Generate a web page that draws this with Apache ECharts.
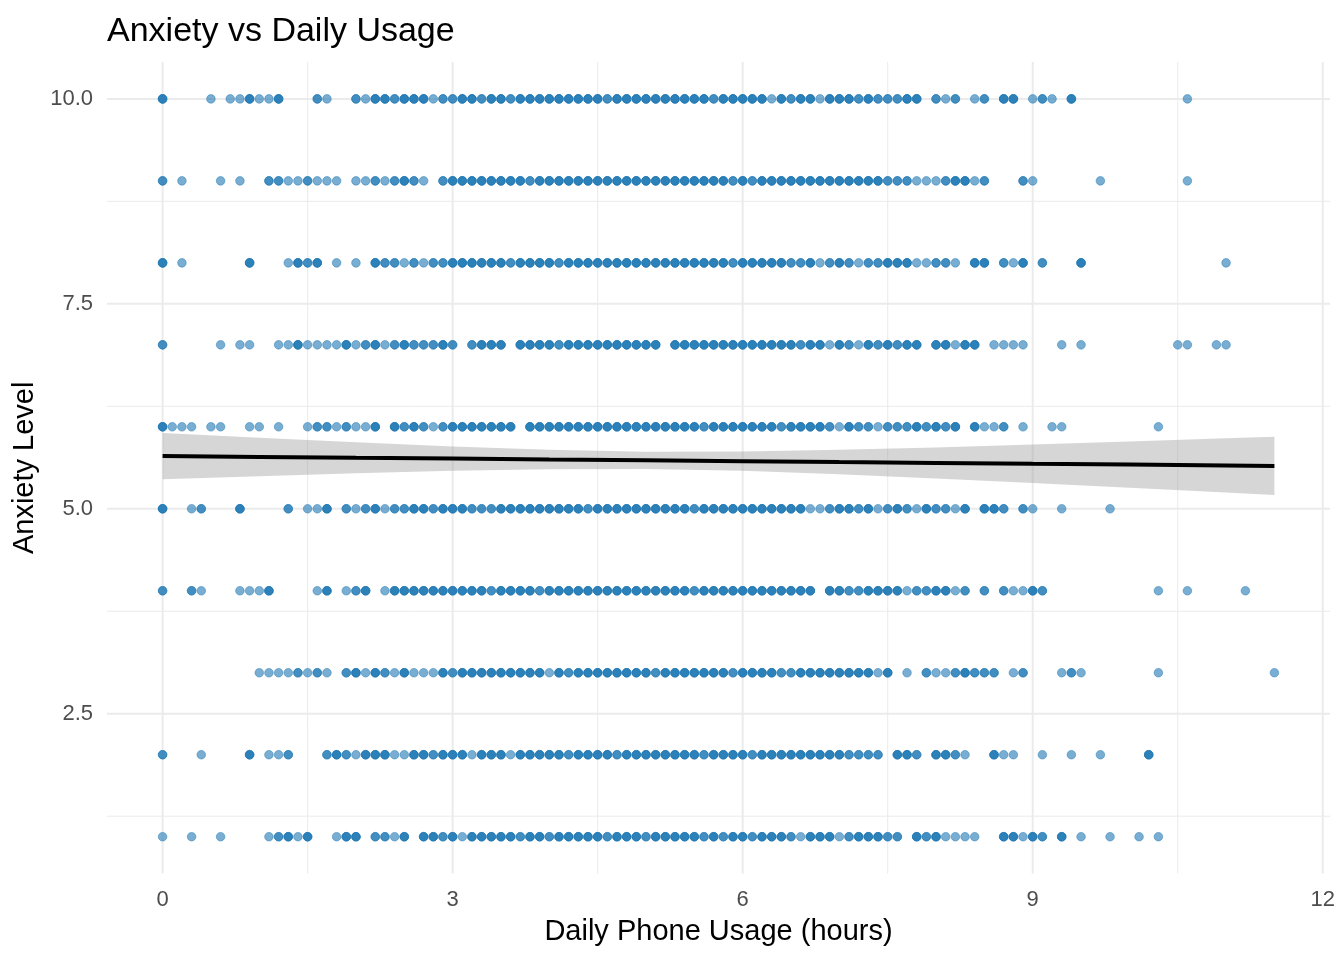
<!DOCTYPE html>
<html>
<head>
<meta charset="utf-8">
<script src="https://cdn.jsdelivr.net/npm/echarts@6/dist/echarts.min.js"></script>
<style>html,body{margin:0;padding:0;background:#fff}#chart{width:1344px;height:960px}</style>
</head>
<body>
<div id="chart"></div>
<script>
// ---- data: [hours, number of overlapping observations] per anxiety level ----
const level10 = [[0,3],[0.5,1],[0.7,1],[0.8,1],[0.9,3],[1.0,1],[1.1,1],[1.2,3],[1.6,2],[1.7,1],[2.0,2],[2.1,1],[2.2,3],[2.3,3],[2.4,2],[2.5,3],[2.6,3],[2.7,3],[2.8,1],[2.9,2],[3.0,2],[3.1,3],[3.2,3],[3.3,2],[3.4,3],[3.5,3],[3.6,2],[3.7,3],[3.8,3],[3.9,3],[4.0,3],[4.1,3],[4.2,3],[4.3,3],[4.4,3],[4.5,3],[4.6,2],[4.7,3],[4.8,3],[4.9,3],[5.0,3],[5.1,3],[5.2,3],[5.3,3],[5.4,3],[5.5,3],[5.6,3],[5.7,2],[5.8,3],[5.9,3],[6.0,3],[6.1,3],[6.2,3],[6.3,1],[6.4,3],[6.5,2],[6.6,3],[6.7,3],[6.8,1],[6.9,3],[7.0,3],[7.1,3],[7.2,2],[7.3,3],[7.4,2],[7.5,2],[7.6,2],[7.7,3],[7.8,3],[8.0,2],[8.1,1],[8.2,2],[8.4,1],[8.5,2],[8.7,3],[8.8,3],[9.0,1],[9.1,2],[9.2,1],[9.4,3],[10.6,1]];
const level9 = [[0,2],[0.2,1],[0.6,1],[0.8,1],[1.1,2],[1.2,2],[1.3,1],[1.4,1],[1.5,2],[1.6,1],[1.7,1],[1.8,1],[2.0,1],[2.1,1],[2.2,2],[2.3,1],[2.4,2],[2.5,3],[2.6,2],[2.7,1],[2.9,2],[3.0,3],[3.1,3],[3.2,3],[3.3,3],[3.4,3],[3.5,3],[3.6,3],[3.7,3],[3.8,2],[3.9,3],[4.0,3],[4.1,3],[4.2,3],[4.3,3],[4.4,3],[4.5,3],[4.6,3],[4.7,3],[4.8,3],[4.9,3],[5.0,3],[5.1,3],[5.2,3],[5.3,3],[5.4,3],[5.5,3],[5.6,3],[5.7,3],[5.8,3],[5.9,2],[6.0,3],[6.1,2],[6.2,3],[6.3,3],[6.4,3],[6.5,3],[6.6,3],[6.7,3],[6.8,3],[6.9,3],[7.0,3],[7.1,3],[7.2,3],[7.3,3],[7.4,3],[7.5,2],[7.6,2],[7.7,2],[7.8,1],[7.9,1],[8.0,1],[8.1,2],[8.2,3],[8.3,3],[8.4,1],[8.5,2],[8.9,2],[9.0,1],[9.7,1],[10.6,1]];
const level8 = [[0,3],[0.2,1],[0.9,3],[1.3,1],[1.4,3],[1.5,2],[1.6,3],[1.8,1],[2.0,1],[2.2,3],[2.3,2],[2.4,2],[2.5,1],[2.6,2],[2.7,1],[2.8,2],[2.9,2],[3.0,3],[3.1,3],[3.2,3],[3.3,3],[3.4,3],[3.5,3],[3.6,2],[3.7,3],[3.8,3],[3.9,3],[4.0,3],[4.1,2],[4.2,3],[4.3,3],[4.4,3],[4.5,3],[4.6,3],[4.7,3],[4.8,3],[4.9,3],[5.0,3],[5.1,3],[5.2,3],[5.3,3],[5.4,3],[5.5,3],[5.6,3],[5.7,3],[5.8,3],[5.9,2],[6.0,3],[6.1,3],[6.2,3],[6.3,3],[6.4,3],[6.5,2],[6.6,2],[6.7,3],[6.8,1],[6.9,2],[7.0,3],[7.1,2],[7.2,1],[7.3,2],[7.4,2],[7.5,3],[7.6,3],[7.7,3],[7.8,1],[7.9,1],[8.0,2],[8.1,2],[8.2,1],[8.4,3],[8.5,3],[8.7,2],[8.8,1],[8.9,3],[9.1,2],[9.5,3],[11.0,1]];
const level7 = [[0,2],[0.6,1],[0.8,1],[0.9,1],[1.2,1],[1.3,1],[1.4,3],[1.5,1],[1.6,1],[1.7,1],[1.8,1],[1.9,3],[2.0,1],[2.1,2],[2.2,3],[2.3,1],[2.4,2],[2.5,3],[2.6,2],[2.7,2],[2.8,2],[2.9,3],[3.0,2],[3.2,2],[3.3,3],[3.4,3],[3.5,3],[3.7,3],[3.8,3],[3.9,3],[4.0,3],[4.1,2],[4.2,3],[4.3,3],[4.4,3],[4.5,3],[4.6,3],[4.7,3],[4.8,3],[4.9,3],[5.0,3],[5.1,3],[5.3,3],[5.4,3],[5.5,3],[5.6,3],[5.7,3],[5.8,3],[5.9,3],[6.0,3],[6.1,3],[6.2,3],[6.3,3],[6.4,3],[6.5,3],[6.6,2],[6.7,3],[6.8,3],[6.9,1],[7.0,3],[7.1,2],[7.2,1],[7.3,3],[7.4,2],[7.5,3],[7.6,2],[7.7,3],[7.8,3],[8.0,3],[8.1,3],[8.2,1],[8.3,3],[8.4,3],[8.6,1],[8.7,1],[8.8,1],[8.9,1],[9.3,1],[9.5,1],[10.5,1],[10.6,1],[10.9,1],[11.0,1]];
const level6 = [[0,3],[0.1,1],[0.2,1],[0.3,1],[0.5,1],[0.6,1],[0.9,1],[1.0,1],[1.2,1],[1.5,1],[1.6,2],[1.7,2],[1.8,1],[1.9,2],[2.0,1],[2.1,1],[2.2,3],[2.4,3],[2.5,2],[2.6,3],[2.7,2],[2.8,1],[2.9,2],[3.0,3],[3.1,3],[3.2,3],[3.3,3],[3.4,3],[3.5,3],[3.6,3],[3.8,3],[3.9,3],[4.0,3],[4.1,3],[4.2,3],[4.3,3],[4.4,3],[4.5,3],[4.6,3],[4.7,3],[4.8,3],[4.9,3],[5.0,3],[5.1,3],[5.2,3],[5.3,3],[5.4,3],[5.5,3],[5.6,2],[5.7,3],[5.8,3],[5.9,3],[6.0,3],[6.1,3],[6.2,3],[6.3,3],[6.4,2],[6.5,3],[6.6,3],[6.7,3],[6.8,3],[6.9,2],[7.0,1],[7.1,3],[7.2,2],[7.3,2],[7.4,1],[7.5,2],[7.6,2],[7.7,2],[7.8,3],[7.9,2],[8.0,3],[8.1,2],[8.2,3],[8.4,3],[8.5,1],[8.6,1],[8.7,2],[8.9,1],[9.2,1],[9.3,1],[10.3,1]];
const level5 = [[0,3],[0.3,1],[0.4,2],[0.8,3],[1.3,2],[1.5,1],[1.6,1],[1.7,3],[1.9,2],[2.0,1],[2.1,2],[2.2,3],[2.3,1],[2.4,2],[2.5,2],[2.6,3],[2.7,3],[2.8,2],[2.9,3],[3.0,3],[3.1,3],[3.2,2],[3.3,2],[3.4,2],[3.5,3],[3.6,3],[3.7,3],[3.8,3],[3.9,3],[4.0,3],[4.1,3],[4.2,3],[4.3,3],[4.4,2],[4.5,3],[4.6,3],[4.7,3],[4.8,3],[4.9,3],[5.0,3],[5.1,3],[5.2,3],[5.3,3],[5.4,3],[5.5,2],[5.6,3],[5.7,3],[5.8,3],[5.9,3],[6.0,3],[6.1,3],[6.2,3],[6.3,3],[6.4,3],[6.5,3],[6.6,3],[6.7,1],[6.8,1],[6.9,2],[7.0,3],[7.1,3],[7.2,2],[7.3,3],[7.4,1],[7.5,2],[7.6,3],[7.7,2],[7.8,1],[7.9,3],[8.0,2],[8.1,2],[8.2,1],[8.3,3],[8.5,3],[8.6,3],[8.7,2],[8.9,2],[9.0,1],[9.3,1],[9.8,1]];
const level4 = [[0,2],[0.3,2],[0.4,1],[0.8,1],[0.9,1],[1.0,1],[1.1,3],[1.6,1],[1.7,3],[1.9,1],[2.0,2],[2.1,3],[2.3,1],[2.4,3],[2.5,3],[2.6,3],[2.7,3],[2.8,3],[2.9,3],[3.0,3],[3.1,3],[3.2,3],[3.3,3],[3.4,2],[3.5,3],[3.6,3],[3.7,3],[3.8,3],[3.9,2],[4.0,3],[4.1,3],[4.2,3],[4.3,3],[4.4,3],[4.5,3],[4.6,3],[4.7,3],[4.8,3],[4.9,3],[5.0,3],[5.1,3],[5.2,3],[5.3,3],[5.4,3],[5.5,2],[5.6,3],[5.7,3],[5.8,3],[5.9,3],[6.0,3],[6.1,3],[6.2,3],[6.3,3],[6.4,3],[6.5,3],[6.6,3],[6.7,3],[6.9,3],[7.0,3],[7.1,2],[7.2,2],[7.3,3],[7.4,3],[7.5,3],[7.6,3],[7.7,1],[7.8,2],[7.9,2],[8.0,3],[8.1,3],[8.2,1],[8.3,2],[8.5,2],[8.7,2],[8.8,1],[8.9,1],[9.0,3],[9.1,2],[10.3,1],[10.6,1],[11.2,1]];
const level3 = [[1.0,1],[1.1,1],[1.2,1],[1.3,1],[1.4,2],[1.5,1],[1.6,2],[1.7,1],[1.9,2],[2.0,3],[2.1,1],[2.2,3],[2.3,2],[2.4,1],[2.5,3],[2.6,1],[2.7,1],[2.8,1],[2.9,3],[3.0,2],[3.1,3],[3.2,3],[3.3,3],[3.4,3],[3.5,3],[3.6,3],[3.7,3],[3.8,3],[3.9,3],[4.0,1],[4.1,3],[4.2,2],[4.3,3],[4.4,3],[4.5,3],[4.6,3],[4.7,3],[4.8,3],[4.9,3],[5.0,3],[5.1,2],[5.2,3],[5.3,3],[5.4,3],[5.5,3],[5.6,3],[5.7,3],[5.8,3],[5.9,2],[6.0,3],[6.1,3],[6.2,3],[6.3,3],[6.4,2],[6.5,2],[6.6,3],[6.7,3],[6.8,3],[6.9,3],[7.0,3],[7.1,3],[7.2,3],[7.3,3],[7.4,1],[7.5,3],[7.7,1],[7.9,2],[8.0,1],[8.1,1],[8.2,2],[8.3,3],[8.4,2],[8.5,2],[8.6,2],[8.8,1],[8.9,2],[9.3,1],[9.4,2],[9.5,1],[10.3,1],[11.5,1]];
const level2 = [[0,2],[0.4,1],[0.9,3],[1.1,1],[1.2,1],[1.3,2],[1.7,2],[1.8,3],[1.9,2],[2.0,1],[2.1,3],[2.2,3],[2.3,3],[2.4,1],[2.5,1],[2.6,3],[2.7,3],[2.8,2],[2.9,3],[3.0,3],[3.1,3],[3.2,1],[3.3,3],[3.4,3],[3.5,3],[3.6,1],[3.7,3],[3.8,3],[3.9,3],[4.0,3],[4.1,3],[4.2,2],[4.3,3],[4.4,3],[4.5,3],[4.6,3],[4.7,2],[4.8,3],[4.9,3],[5.0,3],[5.1,3],[5.2,3],[5.3,3],[5.4,3],[5.5,3],[5.6,2],[5.7,3],[5.8,3],[5.9,3],[6.0,3],[6.1,2],[6.2,3],[6.3,3],[6.4,3],[6.5,3],[6.6,3],[6.7,3],[6.8,3],[6.9,3],[7.0,3],[7.1,2],[7.2,2],[7.3,2],[7.4,2],[7.6,3],[7.7,3],[7.8,2],[8.0,3],[8.1,3],[8.2,2],[8.3,1],[8.6,3],[8.7,1],[8.8,1],[9.1,1],[9.4,1],[9.7,1],[10.2,3]];
const level1 = [[0,1],[0.3,1],[0.6,1],[1.1,1],[1.2,2],[1.3,3],[1.4,1],[1.5,3],[1.8,1],[1.9,3],[2.0,3],[2.2,2],[2.3,2],[2.4,1],[2.5,3],[2.7,3],[2.8,3],[2.9,2],[3.0,3],[3.1,1],[3.2,3],[3.3,3],[3.4,3],[3.5,3],[3.6,3],[3.7,2],[3.8,3],[3.9,3],[4.0,2],[4.1,3],[4.2,3],[4.3,3],[4.4,3],[4.5,3],[4.6,2],[4.7,3],[4.8,3],[4.9,3],[5.0,2],[5.1,3],[5.2,3],[5.3,3],[5.4,3],[5.5,3],[5.6,2],[5.7,3],[5.8,2],[5.9,3],[6.0,3],[6.1,2],[6.2,3],[6.3,3],[6.4,3],[6.5,2],[6.6,1],[6.7,3],[6.8,3],[6.9,3],[7.0,1],[7.1,2],[7.2,3],[7.3,3],[7.4,3],[7.5,2],[7.6,2],[7.8,3],[7.9,2],[8.0,3],[8.1,1],[8.2,1],[8.3,1],[8.4,1],[8.7,3],[8.8,3],[8.9,1],[9.0,3],[9.1,2],[9.3,3],[9.5,1],[9.8,1],[10.1,1],[10.3,1]];

// ---- linear fit and 95% band ----
const fitX     = [0, 1, 2, 3, 4, 5, 6, 7, 8, 9, 10, 11, 11.5];
const fitY     = [5.643, 5.633, 5.622, 5.612, 5.601, 5.591, 5.581, 5.570, 5.560, 5.549, 5.539, 5.529, 5.523];
const bandLow  = [5.361, 5.398, 5.433, 5.463, 5.483, 5.485, 5.463, 5.421, 5.371, 5.314, 5.257, 5.198, 5.167];
const bandHigh = [5.925, 5.868, 5.811, 5.761, 5.719, 5.697, 5.699, 5.719, 5.749, 5.784, 5.821, 5.860, 5.879];

// ---- ticks ----
const xTicks = [0, 3, 6, 9, 12];
const xMinorTicks = [1.5, 4.5, 7.5, 10.5];
const yTicks = [2.5, 5, 7.5, 10];
const yMinorTicks = [1.25, 3.75, 6.25, 8.75];

const X_MIN = -0.575, X_MAX = 12.075, Y_MIN = 0.55, Y_MAX = 10.45;

const levels = [[10, level10],[9, level9],[8, level8],[7, level7],[6, level6],[5, level5],[4, level4],[3, level3],[2, level2],[1, level1]];
const points = [];
levels.forEach(([lv, arr]) => arr.forEach(([h, n]) => { for (let k = 0; k < n; k++) points.push([h, lv]); }));

const FONT = "'Liberation Sans', Arial, sans-serif";
const chart = echarts.init(document.getElementById('chart'), null, {renderer: 'canvas'});

function vLine(params, api) {
  const v = api.value(0), w = api.value(1);
  const a = api.coord([v, Y_MIN]), b = api.coord([v, Y_MAX]);
  return {type: 'line', shape: {x1: a[0], y1: a[1], x2: b[0], y2: b[1]}, style: {stroke: '#ebebeb', lineWidth: w}};
}
function hLine(params, api) {
  const w = api.value(0), v = api.value(1);
  const a = api.coord([X_MIN, v]), b = api.coord([X_MAX, v]);
  return {type: 'line', shape: {x1: a[0], y1: a[1], x2: b[0], y2: b[1]}, style: {stroke: '#ebebeb', lineWidth: w}};
}

chart.setOption({
  animation: false,
  backgroundColor: '#ffffff',
  title: {
    text: 'Anxiety vs Daily Usage', left: 107, top: 15, padding: 0,
    textStyle: {fontFamily: FONT, fontSize: 34, fontWeight: 'normal', color: '#000'}
  },
  grid: {left: 107, right: 14, top: 62, bottom: 86.4, containLabel: false},
  xAxis: {
    type: 'value', min: X_MIN, max: X_MAX,
    name: 'Daily Phone Usage (hours)', nameLocation: 'middle', nameGap: 44,
    nameTextStyle: {fontFamily: FONT, fontSize: 29, color: '#000'},
    axisLine: {show: false}, axisTick: {show: false}, splitLine: {show: false},
    axisLabel: {customValues: xTicks, margin: 15, fontFamily: FONT, fontSize: 22, color: '#4d4d4d',
      formatter: v => String(v)}
  },
  yAxis: {
    type: 'value', min: Y_MIN, max: Y_MAX,
    name: 'Anxiety Level', nameLocation: 'middle', nameGap: 64,
    nameTextStyle: {fontFamily: FONT, fontSize: 29, color: '#000'},
    axisLine: {show: false}, axisTick: {show: false}, splitLine: {show: false},
    axisLabel: {customValues: yTicks, margin: 14, fontFamily: FONT, fontSize: 22, color: '#4d4d4d',
      formatter: v => Number(v).toFixed(1)}
  },
  series: [
    {type: 'custom', z: 0, silent: true, renderItem: hLine,
      data: yMinorTicks.map(v => [1, v]).concat(yTicks.map(v => [2, v])), encode: {x: 0, y: 1}},
    {type: 'custom', z: 0, silent: true, renderItem: vLine,
      data: xMinorTicks.map(v => [v, 1]).concat(xTicks.map(v => [v, 2])), encode: {x: 0, y: 1}},
    {type: 'scatter', z: 2, large: false, progressive: 0, symbol: 'circle', symbolSize: 8.6,
      itemStyle: {color: '#1f78b4', opacity: 0.6, borderColor: '#1f78b4', borderWidth: 0.8},
      data: points},
    {type: 'custom', z: 3, silent: true, data: [[0, 5.6]],
      renderItem: function (params, api) {
        const pts = [];
        for (let i = 0; i < fitX.length; i++) pts.push(api.coord([fitX[i], bandHigh[i]]));
        for (let i = fitX.length - 1; i >= 0; i--) pts.push(api.coord([fitX[i], bandLow[i]]));
        return {type: 'polygon', shape: {points: pts}, style: {fill: 'rgba(153,153,153,0.4)'}};
      }},
    {type: 'line', z: 4, silent: true, showSymbol: false, smooth: false,
      lineStyle: {color: '#000', width: 4},
      data: fitX.map((x, i) => [x, fitY[i]])}
  ]
});
</script>
</body>
</html>
